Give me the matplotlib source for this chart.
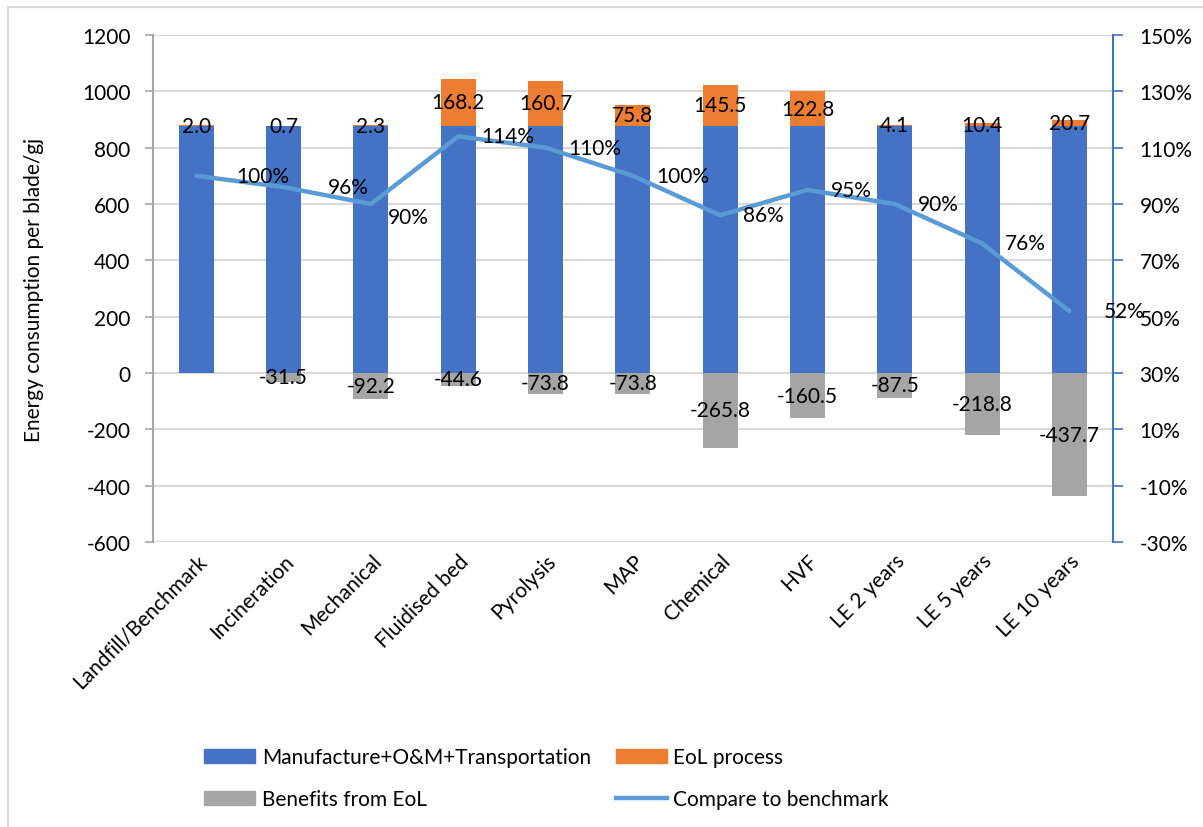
import matplotlib
matplotlib.use("Agg")
import matplotlib.pyplot as plt
from matplotlib.patches import Patch
from matplotlib.lines import Line2D
import numpy as np

plt.rcParams['font.family'] = ['Lato', 'DejaVu Sans']
plt.rcParams['axes.unicode_minus'] = False

categories = ["Landfill/Benchmark", "Incineration", "Mechanical", "Fluidised bed",
              "Pyrolysis", "MAP", "Chemical", "HVF", "LE 2 years", "LE 5 years",
              "LE 10 years"]
manufacture = [877, 877, 877, 877, 877, 877, 877, 877, 877, 877, 877]
eol_process = [2.0, 0.7, 2.3, 168.2, 160.7, 75.8, 145.5, 122.8, 4.1, 10.4, 20.7]
eol_benefits = [0.0, -31.5, -92.2, -44.6, -73.8, -73.8, -265.8, -160.5, -87.5, -218.8, -437.7]
vs_benchmark = [100, 96, 90, 114, 110, 100, 86, 95, 90, 76, 52]

BLUE = "#4472C4"
ORANGE = "#ED7D31"
GRAY = "#A5A5A5"
LINE = "#5B9BD5"
GRID = "#D9D9D9"
AXIS = "#A6A6A6"
FS = 15

W, H = 1203, 828
PX = 72 / 100  # points per pixel at 100 dpi
fig = plt.figure(figsize=(W / 100, H / 100), dpi=100)
ax = fig.add_axes([152.7 / W, 1 - 543 / H, (1113 - 152.7) / W, (543 - 36) / H])

x = np.arange(len(categories))
bw = 0.40
ax.bar(x, manufacture, bw, color=BLUE, zorder=2)
ax.bar(x, eol_process, bw, bottom=manufacture, color=ORANGE, zorder=2)
ax.bar(x, eol_benefits, bw, color=GRAY, zorder=2)

for xi, m, e in zip(x, manufacture, eol_process):
    ax.text(xi, m + e / 2, f"{e:.1f}", ha="center", va="center", fontsize=FS, zorder=5)
for xi, b in zip(x, eol_benefits):
    if b != 0:
        ax.text(xi, b / 2, f"{b:.1f}", ha="center", va="center", fontsize=FS, zorder=5)

ax.set_xlim(-0.5, len(categories) - 0.5)
ax.set_ylim(-600, 1200)
ax.set_yticks(np.arange(-600, 1201, 200))
ax.yaxis.grid(True, color=GRID, linewidth=1.5, zorder=0)
ax.set_axisbelow(True)
ax.axhline(0, color=GRID, linewidth=1.5, zorder=1)
for s in ["top", "right", "bottom"]:
    ax.spines[s].set_visible(False)
ax.spines["left"].set_color(AXIS)
ax.spines["left"].set_linewidth(1.5)
ax.tick_params(axis="y", length=6, width=1.2, color=AXIS, labelsize=FS, pad=10)
ax.tick_params(axis="x", length=0, labelsize=FS, pad=6)
ax.set_xticks(x)
ax.set_xticklabels(categories, rotation=45, ha="right", va="top", rotation_mode="anchor")
ax.set_ylabel("Energy consumption per blade/gj", fontsize=FS)
ax.yaxis.set_label_coords((44 - 152.7) / (1113 - 152.7), 0.5)

ax2 = ax.twinx()
ax2.set_ylim(-30, 150)
ax2.set_yticks(np.arange(-30, 151, 20))
ax2.set_yticklabels([f"{v}%" for v in range(-30, 151, 20)])
for s in ["top", "left", "bottom"]:
    ax2.spines[s].set_visible(False)
ax2.spines["right"].set_color(BLUE)
ax2.spines["right"].set_linewidth(1.5)
ax2.tick_params(axis="y", length=7, width=1.2, color=BLUE, labelsize=FS, pad=12)
ax2.plot(x, vs_benchmark, color=LINE, linewidth=3.2, solid_capstyle="round", zorder=4)

# percentage labels sit to the right of each point; a few are nudged (pixels)
label_shift = {0: (40, 0), 1: (44, 0), 2: (17, -13), 10: (34, 0)}
for i, (xi, v) in enumerate(zip(x, vs_benchmark)):
    dx, dy = label_shift.get(i, (23, 0))
    ax2.annotate(f"{v}%", (xi, v), xytext=(dx * PX, dy * PX), textcoords="offset points",
                 ha="left", va="center", fontsize=FS, zorder=5)

handles = [Patch(color=BLUE), Patch(color=GRAY), Patch(color=ORANGE),
           Line2D([0], [0], color=LINE, linewidth=3.2)]
labels = ["Manufacture+O&M+Transportation", "Benefits from EoL", "EoL process",
          "Compare to benchmark"]
fig.legend(handles, labels, loc="upper left", bbox_to_anchor=(194 / W, 1 - 738 / H),
           ncol=2, frameon=False, fontsize=FS, handlelength=2.45, handleheight=0.65,
           handletextpad=0.3, columnspacing=1.2, labelspacing=1.05, borderpad=0)

# light frame on the left and top edges
fig.add_artist(Line2D([7.5 / W, 7.5 / W, 1], [0, 1 - 7.5 / H, 1 - 7.5 / H],
                      transform=fig.transFigure, color="#D9D9D9", linewidth=1.5))

fig.savefig("out.png", dpi=100)
